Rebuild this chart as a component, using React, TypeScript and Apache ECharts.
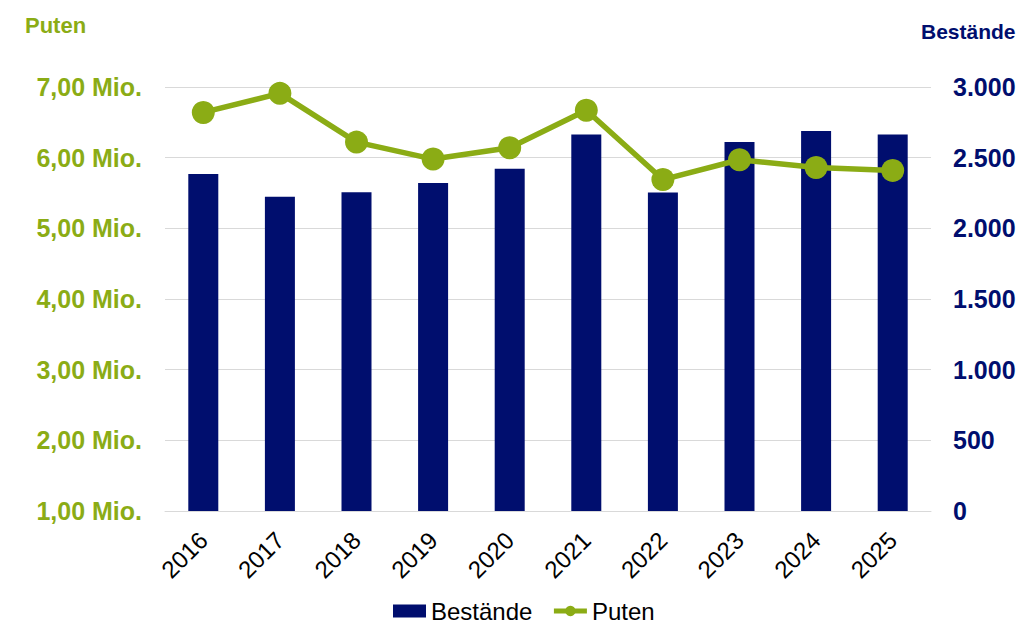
import React, { useEffect, useRef } from "react";
import * as echarts from "echarts";

const years = ["2016", "2017", "2018", "2019", "2020", "2021", "2022", "2023", "2024", "2025"];
const bestaende = [2384, 2223, 2256, 2320, 2421, 2664, 2254, 2610, 2688, 2664];
const puten = [6.64, 6.91, 6.22, 5.98, 6.14, 6.67, 5.69, 5.97, 5.86, 5.82];

const GREEN = "#8BAC15";
const NAVY = "#000E6E";
const FONT = "'Liberation Sans', Arial, sans-serif";

export default function App() {
  const ref = useRef<HTMLDivElement>(null);
  useEffect(() => {
    if (!ref.current) return;
    const chart = echarts.init(ref.current, null, { renderer: "svg" });
    chart.setOption({
      animation: false,
      textStyle: { fontFamily: FONT },
      grid: { left: 165, right: 93, top: 87, bottom: 112 },
      legend: {
        left: 393,
        top: 599,
        itemWidth: 33,
        itemHeight: 13,
        itemGap: 19,
        padding: 0,
        textStyle: { fontSize: 24, color: "#000", fontFamily: FONT, lineHeight: 22 },
        data: [
          { name: "Bestände", icon: "rect" },
          { name: "Puten", lineStyle: { width: 5 } },
        ],
      },
      graphic: [
        {
          type: "text",
          left: 25,
          top: 14,
          style: { text: "Puten", fill: GREEN, font: `bold 22px ${FONT}` },
        },
        {
          type: "text",
          left: 921,
          top: 21,
          style: { text: "Bestände", fill: NAVY, font: `bold 21px ${FONT}` },
        },
      ],
      xAxis: {
        type: "category",
        data: years,
        axisLine: { lineStyle: { color: "#D9D9D9", width: 1 } },
        axisTick: { show: false },
        axisLabel: { rotate: 45, fontSize: 24, color: "#000", margin: 25, fontFamily: FONT },
      },
      yAxis: [
        {
          type: "value",
          min: 1,
          max: 7,
          interval: 1,
          position: "left",
          axisLine: { show: false },
          axisTick: { show: false },
          splitLine: { lineStyle: { color: "#D9D9D9", width: 1 } },
          axisLabel: {
            margin: 23,
            fontSize: 25,
            fontWeight: "bold",
            color: GREEN,
            fontFamily: FONT,
            formatter: (v: number) => v.toFixed(2).replace(".", ",") + " Mio.",
          },
        },
        {
          type: "value",
          min: 0,
          max: 3000,
          interval: 500,
          position: "right",
          axisLine: { show: false },
          axisTick: { show: false },
          splitLine: { show: false },
          axisLabel: {
            margin: 22,
            fontSize: 25,
            fontWeight: "bold",
            color: NAVY,
            fontFamily: FONT,
            formatter: (v: number) => v.toLocaleString("de-DE"),
          },
        },
      ],
      series: [
        {
          name: "Bestände",
          type: "bar",
          yAxisIndex: 1,
          data: bestaende,
          barWidth: 30,
          itemStyle: { color: NAVY },
        },
        {
          name: "Puten",
          type: "line",
          yAxisIndex: 0,
          data: puten,
          symbol: "circle",
          symbolSize: 23,
          lineStyle: { color: GREEN, width: 5.5 },
          itemStyle: { color: GREEN },
        },
      ],
    });
    return () => chart.dispose();
  }, []);
  return <div ref={ref} style={{ width: 1024, height: 623, position: "absolute", left: 0, top: 0 }} />;
}
